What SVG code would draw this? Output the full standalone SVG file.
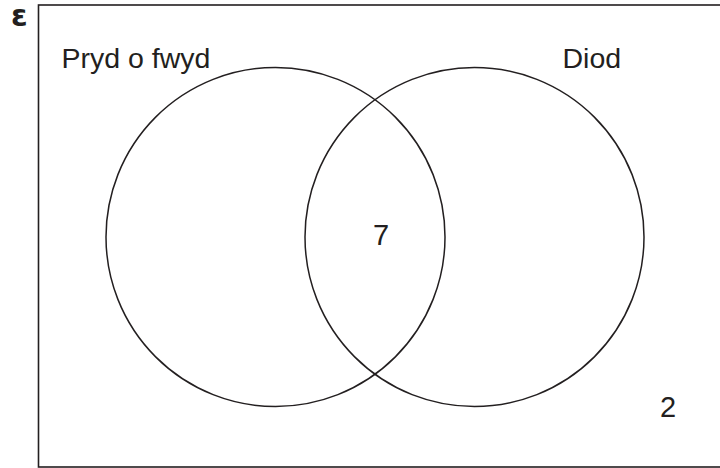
<svg xmlns="http://www.w3.org/2000/svg" width="720" height="468" viewBox="0 0 720 468">
<style>
.t{font-family:"Liberation Sans",Arial,sans-serif;fill:#231f20}
.c{fill:none;stroke:#231f20;stroke-width:1.5}
</style>
<rect x="0" y="0" width="720" height="468" fill="#fff"/>
<g id="universe">
<rect x="38.5" y="5" width="700" height="462" fill="none" stroke="#231f20" stroke-width="1.6"/>
<text x="11" y="26" font-size="30" font-weight="bold" font-family="'DejaVu Sans',sans-serif" fill="#231f20">ε</text>
<text class="t" x="668" y="417" font-size="29" text-anchor="middle">2</text>
</g>
<g id="set-food">
<circle class="c" cx="275.5" cy="237" r="169.5"/>
<text class="t" x="61.5" y="68" font-size="28.5">Pryd o fwyd</text>
</g>
<g id="set-drink">
<circle class="c" cx="474.5" cy="237" r="169.5"/>
<text class="t" x="562.5" y="68" font-size="28.5">Diod</text>
</g>
<g id="intersection">
<text class="t" x="381" y="245" font-size="29" text-anchor="middle">7</text>
</g>
<g id="connectors"></g>
</svg>
